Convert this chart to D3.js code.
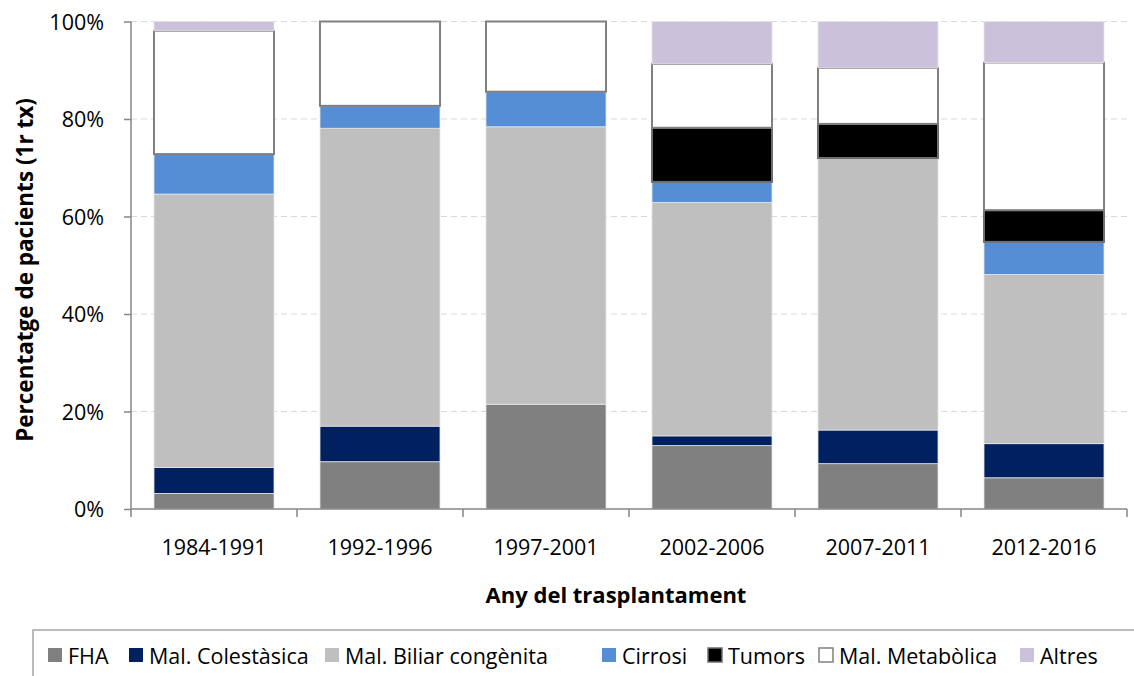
<!DOCTYPE html>
<html>
<head>
<meta charset="utf-8">
<script src="https://cdn.jsdelivr.net/npm/d3@7"></script>
<style>
  body { margin: 0; background: #fff; }
  text { font-family: "Open Sans", sans-serif; fill: #000; }
</style>
</head>
<body>
<div id="target"></div>
<script>
// data
var periods = ['1984-1991', '1992-1996', '1997-2001', '2002-2006', '2007-2011', '2012-2016'];
var seriesNames = ['FHA', 'Mal. Colestàsica', 'Mal. Biliar congènita', 'Cirrosi', 'Tumors', 'Mal. Metabòlica', 'Altres'];
var fha        = [3.2, 9.7, 21.5, 13.0, 9.3, 6.4];
var colestasic = [5.3, 7.3, 0, 2.0, 6.9, 7.0];
var biliar     = [56.1, 61.1, 56.9, 47.9, 55.8, 34.7];
var cirrosi    = [8.2, 4.6, 7.2, 4.2, 0, 6.7];
var tumors     = [0, 0, 0, 11.1, 7.0, 6.5];
var metabolica = [25.3, 17.3, 14.4, 13.1, 11.5, 30.3];
var altres     = [1.9, 0, 0, 8.7, 9.5, 8.4];
var yTicks = [0, 20, 40, 60, 80, 100];

var colors = ['#808080', '#002060', '#bfbfbf', '#558ed5', '#000000', '#ffffff', '#ccc1da'];
var strokes = [null, null, null, null, '#6f6f6f', '#808080', null];

var allSeries = [fha, colestasic, biliar, cirrosi, tumors, metabolica, altres];
var rows = periods.map(function(p, i) {
  var r = { period: p };
  seriesNames.forEach(function(s, j) { r[s] = allSeries[j][i]; });
  return r;
});

var svg = d3.select('#target').append('svg')
  .attr('width', 1134)
  .attr('height', 676);

var x = d3.scaleBand()
  .domain(periods)
  .range([131, 1127])
  .paddingInner(0.277)
  .paddingOuter(0.1385);

var y = d3.scaleLinear()
  .domain([0, 100])
  .range([509, 21.5]);

// gridlines
svg.append('g')
  .selectAll('line')
  .data(yTicks.slice(1))
  .enter().append('line')
  .attr('x1', 131).attr('x2', 1127)
  .attr('y1', function(d) { return y(d); })
  .attr('y2', function(d) { return y(d); })
  .attr('stroke', '#d9d9d9')
  .attr('stroke-width', 1.2)
  .attr('stroke-dasharray', '6,4');

// bars
var stacked = d3.stack().keys(seriesNames)(rows);

svg.append('g')
  .selectAll('g')
  .data(stacked)
  .enter().append('g')
  .attr('fill', function(d, i) { return colors[i]; })
  .each(function(d, i) {
    d3.select(this).selectAll('rect')
      .data(d.filter(function(v) { return v[1] - v[0] > 0; }))
      .enter().append('rect')
      .attr('x', function(v) { return x(v.data.period); })
      .attr('width', x.bandwidth())
      .attr('y', function(v) { return y(v[1]); })
      .attr('height', function(v) { return y(v[0]) - y(v[1]); })
      .attr('stroke', strokes[i] || '#e6e6e6')
      .attr('stroke-width', strokes[i] ? 2 : 0.8);
  });

// axes
var xAxis = d3.axisBottom(x).tickSize(0).tickPadding(0);
var gx = svg.append('g').attr('transform', 'translate(0,509)').call(xAxis);
gx.select('.domain').remove();
gx.selectAll('text')
  .attr('y', 46)
  .attr('dy', 0)
  .style('font-size', '21.5px')
  .style('font-family', '"Open Sans", sans-serif');

svg.append('line')
  .attr('x1', 131).attr('x2', 1127)
  .attr('y1', 509).attr('y2', 509)
  .attr('stroke', '#868686').attr('stroke-width', 1.5);

svg.append('g').selectAll('line')
  .data(d3.range(periods.length + 1))
  .enter().append('line')
  .attr('x1', function(i) { return 131 + i * x.step(); })
  .attr('x2', function(i) { return 131 + i * x.step(); })
  .attr('y1', 509).attr('y2', 517)
  .attr('stroke', '#868686').attr('stroke-width', 1.5);

var yAxis = d3.axisLeft(y)
  .tickValues(yTicks)
  .tickSize(7)
  .tickPadding(20)
  .tickFormat(function(d) { return d + '%'; });
var gy = svg.append('g').attr('transform', 'translate(131,0)').call(yAxis);
gy.select('.domain').attr('stroke', '#868686').attr('stroke-width', 1.5)
  .attr('d', 'M0,21.5V509');
gy.selectAll('.tick line').attr('stroke', '#868686').attr('stroke-width', 1.5);
gy.selectAll('text')
  .style('font-size', '21.5px')
  .style('font-family', '"Open Sans", sans-serif')
  .attr('dy', '0.35em');

// axis titles
svg.append('text')
  .attr('x', 616).attr('y', 603)
  .attr('text-anchor', 'middle')
  .style('font-size', '22px')
  .style('font-weight', 'bold')
  .text('Any del trasplantament');

svg.append('text')
  .attr('transform', 'translate(33,270) rotate(-90)')
  .attr('text-anchor', 'middle')
  .style('font-size', '22.5px')
  .style('font-weight', 'bold')
  .text('Percentatge de pacients (1r tx)');

// legend
svg.append('rect')
  .attr('x', 33).attr('y', 630)
  .attr('width', 1120).attr('height', 60)
  .attr('fill', 'none')
  .attr('stroke', '#a6a6a6').attr('stroke-width', 1.5);

var legendX = [48, 129, 325, 602, 708, 819, 1020];
var legend = svg.append('g').selectAll('g')
  .data(seriesNames)
  .enter().append('g')
  .attr('transform', function(d, i) { return 'translate(' + legendX[i] + ',648)'; });

legend.append('rect')
  .attr('width', 14).attr('height', 14)
  .attr('fill', function(d, i) { return colors[i]; })
  .attr('stroke', function(d, i) { return strokes[i] || 'none'; })
  .attr('stroke-width', function(d, i) { return strokes[i] ? 1.5 : 0; });

legend.append('text')
  .attr('x', 20).attr('y', 15.5)
  .style('font-size', '21.5px')
  .text(function(d) { return d; });
</script>
</body>
</html>
